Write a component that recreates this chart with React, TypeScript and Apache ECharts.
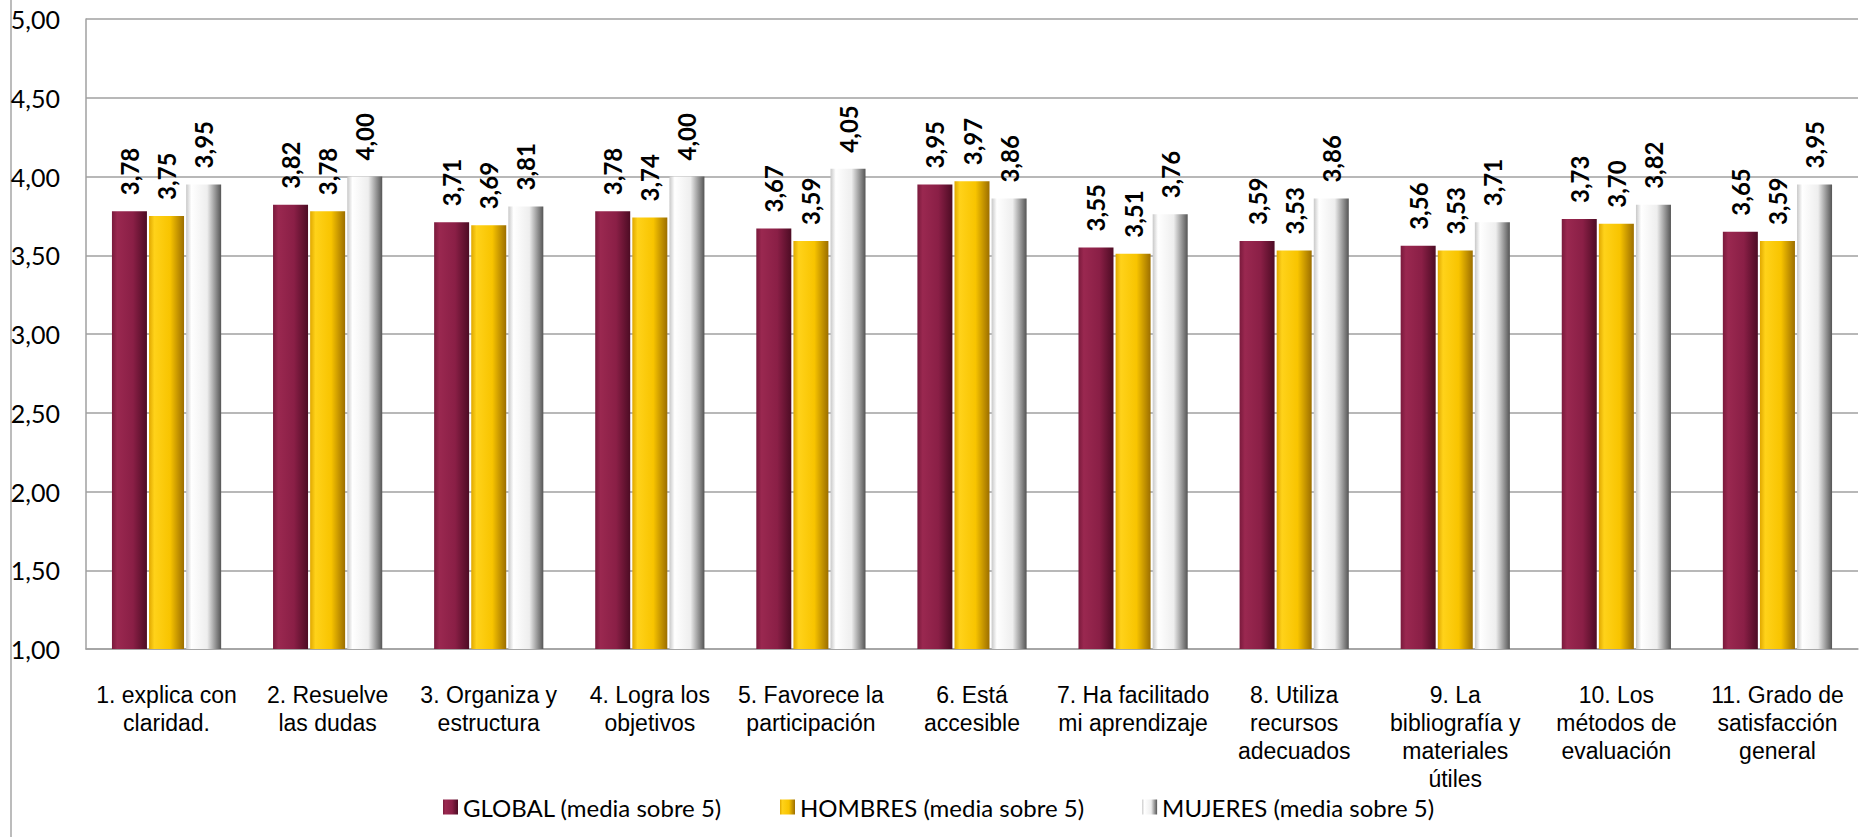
import React, { useEffect, useRef } from "react";
import * as echarts from "echarts";

const categories = [
  "1. explica con\nclaridad.",
  "2. Resuelve\nlas dudas",
  "3. Organiza y\nestructura",
  "4. Logra los\nobjetivos",
  "5. Favorece la\nparticipación",
  "6. Está\naccesible",
  "7. Ha facilitado\nmi aprendizaje",
  "8. Utiliza\nrecursos\nadecuados",
  "9. La\nbibliografía y\nmateriales\nútiles",
  "10. Los\nmétodos de\nevaluación",
  "11. Grado de\nsatisfacción\ngeneral",
];

const globalValues = [3.78, 3.82, 3.71, 3.78, 3.67, 3.95, 3.55, 3.59, 3.56, 3.73, 3.65];
const hombresValues = [3.75, 3.78, 3.69, 3.74, 3.59, 3.97, 3.51, 3.53, 3.53, 3.7, 3.59];
const mujeresValues = [3.95, 4.0, 3.81, 4.0, 4.05, 3.86, 3.76, 3.86, 3.71, 3.82, 3.95];

const seriesNames = [
  "GLOBAL (media sobre 5)",
  "HOMBRES (media sobre 5)",
  "MUJERES (media sobre 5)",
];

const fmt = (v: number) => v.toFixed(2).replace(".", ",");

export default function App() {
  const ref = useRef<HTMLDivElement>(null);

  useEffect(() => {
    document.body.style.margin = "0";
    if (!ref.current) return;
    const chart = echarts.init(ref.current, null, { renderer: "svg" });

    const grad = (stops: [number, string][]) =>
      new echarts.graphic.LinearGradient(
        0,
        0,
        1,
        0,
        stops.map(([offset, color]) => ({ offset, color }))
      );

    const colors = [
      grad([
        [0, "#7a1a3c"],
        [0.15, "#9a2850"],
        [0.6, "#8a1f46"],
        [1, "#4d0c24"],
      ]),
      grad([
        [0, "#e0a800"],
        [0.15, "#ffd21a"],
        [0.6, "#f8c400"],
        [1, "#9c6e00"],
      ]),
      grad([
        [0, "#c8c8c8"],
        [0.15, "#ffffff"],
        [0.6, "#eeeeee"],
        [1, "#555555"],
      ]),
    ];

    const datasets = [globalValues, hombresValues, mujeresValues];

    chart.setOption({
      animation: false,
      backgroundColor: "#ffffff",
      grid: { left: 86, right: 14, top: 19, bottom: 188 },
      graphic: [
        {
          type: "line",
          shape: { x1: 11, y1: 0, x2: 11, y2: 837 },
          style: { stroke: "#a6a6a6", lineWidth: 1.5 },
        },
      ],
      legend: {
        left: 438,
        top: 790,
        itemWidth: 15,
        itemHeight: 15,
        itemGap: 58,
        icon: "rect",
        textStyle: { fontFamily: "Lato", fontSize: 24, color: "#000" },
        data: seriesNames,
      },
      xAxis: {
        type: "category",
        data: categories,
        axisLine: { lineStyle: { color: "#a0a0a0", width: 1.5 } },
        axisTick: { show: false },
        axisLabel: {
          interval: 0,
          margin: 32,
          fontFamily: "Liberation Sans",
          fontSize: 23,
          lineHeight: 28,
          color: "#000",
          align: "center",
        },
      },
      yAxis: {
        type: "value",
        min: 1,
        max: 5,
        interval: 0.5,
        axisLine: { show: true, lineStyle: { color: "#a0a0a0", width: 1.5 } },
        axisTick: { show: false },
        splitLine: { lineStyle: { color: "#a0a0a0", width: 1.5 } },
        axisLabel: {
          margin: 26,
          fontFamily: "Lato",
          fontSize: 25,
          color: "#000",
          formatter: (v: number) => fmt(v),
        },
      },
      series: datasets.map((d, i) => ({
        name: seriesNames[i],
        type: "bar",
        data: d,
        barWidth: 35,
        barGap: "6%",
        itemStyle: { color: colors[i] },
        label: {
          show: true,
          position: "top",
          rotate: 90,
          align: "left",
          verticalAlign: "middle",
          distance: 16,
          fontFamily: "Lato",
          fontWeight: "bold",
          fontSize: 24,
          color: "#000",
          formatter: (p: any) => fmt(p.value),
        },
      })),
    });

    return () => chart.dispose();
  }, []);

  return <div ref={ref} style={{ width: 1872, height: 837 }} />;
}
